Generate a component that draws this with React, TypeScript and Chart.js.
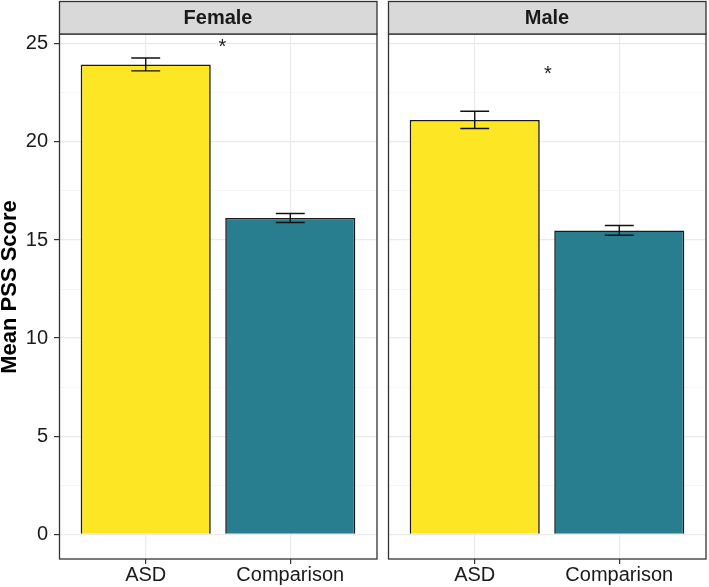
import { useEffect, useRef } from "react";
import { Chart, registerables } from "chart.js";

Chart.register(...registerables);

const panels = ["Female", "Male"];
const categories = ["ASD", "Comparison"];
const femaleMeans = [23.95, 16.12];
const femaleErrors = [0.33, 0.23];
const maleMeans = [21.12, 15.49];
const maleErrors = [0.44, 0.25];
const starX = [0.53, 0.506];
const starY = [24.8, 23.45];
const yTicks = [0, 2.5, 5, 7.5, 10, 12.5, 15, 17.5, 20, 22.5, 25];
const yTickLabels = ["0", "", "5", "", "10", "", "15", "", "20", "", "25"];
const barColors = ["#FDE725", "#287D8E"];
const yTitle = "Mean PSS Score";

const FONT = "'Liberation Sans', Arial, sans-serif";

function makeConfig(panelIndex: number, showY: boolean): any {
  const means = panelIndex === 0 ? femaleMeans : maleMeans;
  const errors = panelIndex === 0 ? femaleErrors : maleErrors;

  const decor = {
    id: "decor" + panelIndex,
    beforeDraw(chart: any) {
      const c = chart.ctx;
      c.save();
      c.fillStyle = "#ffffff";
      c.fillRect(0, 0, chart.width, chart.height);
      c.restore();
    },
    afterDatasetsDraw(chart: any) {
      const c = chart.ctx;
      const xs = chart.scales.x;
      const ys = chart.scales.y;
      const a = chart.chartArea;
      c.save();
      // error bars
      c.strokeStyle = "#111";
      c.lineWidth = 1.4;
      means.forEach((m, i) => {
        const x = xs.getPixelForValue(i);
        const hw = xs.getPixelForValue(i + 0.1) - x;
        const yt = ys.getPixelForValue(m + errors[i]);
        const yb = ys.getPixelForValue(m - errors[i]);
        c.beginPath();
        c.moveTo(x, yt);
        c.lineTo(x, yb);
        c.moveTo(x - hw, yt);
        c.lineTo(x + hw, yt);
        c.moveTo(x - hw, yb);
        c.lineTo(x + hw, yb);
        c.stroke();
      });
      // asterisk
      c.fillStyle = "#222";
      c.font = `20px ${FONT}`;
      c.textAlign = "center";
      c.textBaseline = "middle";
      c.fillText("*", xs.getPixelForValue(starX[panelIndex]), ys.getPixelForValue(starY[panelIndex]));
      // panel border
      c.strokeStyle = "#333";
      c.lineWidth = 1.3;
      c.strokeRect(a.left + 0.5, a.top, a.right - a.left - 0.5, a.bottom - a.top);
      // strip
      c.fillStyle = "#D9D9D9";
      c.fillRect(a.left + 0.5, 1.5, a.right - a.left - 0.5, a.top - 1.5);
      c.strokeRect(a.left + 0.5, 1.5, a.right - a.left - 0.5, a.top - 1.5);
      c.fillStyle = "#1a1a1a";
      c.font = `bold 20px ${FONT}`;
      c.textBaseline = "middle";
      c.fillText(panels[panelIndex], (a.left + a.right) / 2, (a.top + 1.5) / 2 + 1);
      // y title
      if (showY) {
        c.translate(10, 287);
        c.rotate(-Math.PI / 2);
        c.fillStyle = "#000";
        c.font = `bold 22px ${FONT}`;
        c.textAlign = "center";
        c.textBaseline = "middle";
        c.fillText(yTitle, 0, 0);
      }
      c.restore();
    },
  };

  return {
    type: "bar",
    data: {
      datasets: [
        {
          data: means.map((m, i) => ({ x: i, y: m })),
          backgroundColor: barColors,
          borderColor: "#1a1a1a",
          borderWidth: 1.6,
          barPercentage: 0.9,
          categoryPercentage: 1,
        },
      ],
    },
    options: {
      responsive: false,
      animation: false,
      layout: { padding: { top: 34, right: 3, left: showY ? 0 : 8, bottom: 0 } },
      plugins: { legend: { display: false }, tooltip: { enabled: false } },
      scales: {
        x: {
          type: "linear",
          offset: false,
          min: -0.6,
          max: 1.6,
          afterBuildTicks: (s: any) => {
            s.ticks = categories.map((_, i) => ({ value: i }));
          },
          afterFit: (s: any) => {
            s.height = 28;
          },
          ticks: {
            autoSkip: false,
            maxRotation: 0,
            padding: -1,
            color: "#1a1a1a",
            font: { family: FONT, size: 20 },
            callback: (v: any) => categories[v],
          },
          grid: {
            offset: false,
            color: "#EBEBEB",
            lineWidth: 1.2,
            tickColor: "#333",
            tickLength: 5,
          },
          border: { display: false },
        },
        y: {
          type: "linear",
          min: -1.26,
          max: 25.5,
          afterBuildTicks: (s: any) => {
            s.ticks = yTicks.map((v) => ({ value: v }));
          },
          afterFit: (s: any) => {
            s.width = showY ? 59 : 0;
          },
          ticks: {
            display: showY,
            autoSkip: false,
            padding: 6,
            color: "#1a1a1a",
            font: { family: FONT, size: 20 },
            callback: (_v: any, i: number) => yTickLabels[i],
          },
          grid: {
            color: (ctx: any) => (ctx.tick && ctx.tick.value % 5 === 0 ? "#EBEBEB" : "#F4F4F4"),
            lineWidth: (ctx: any) => (ctx.tick && ctx.tick.value % 5 === 0 ? 1.2 : 0.8),
            tickColor: (ctx: any) => (ctx.tick && ctx.tick.value % 5 === 0 ? "#333" : "rgba(0,0,0,0)"),
            tickLength: 5,
            drawTicks: showY,
          },
          border: { display: false },
        },
      },
    },
    plugins: [decor],
  };
}

function Panel({ index, showY, left, width }: { index: number; showY: boolean; left: number; width: number }) {
  const ref = useRef<HTMLCanvasElement | null>(null);
  useEffect(() => {
    if (!ref.current) return;
    const chart = new Chart(ref.current, makeConfig(index, showY));
    return () => chart.destroy();
  }, [index, showY]);
  return (
    <canvas
      ref={ref}
      width={width}
      height={587}
      style={{ position: "absolute", left, top: 0, width, height: 587 }}
    />
  );
}

export default function App() {
  return (
    <div style={{ position: "absolute", left: 0, top: 0, width: 709, height: 587, background: "#fff", overflow: "hidden" }}>
      <Panel index={0} showY={true} left={0} width={380} />
      <Panel index={1} showY={false} left={380} width={329} />
    </div>
  );
}
